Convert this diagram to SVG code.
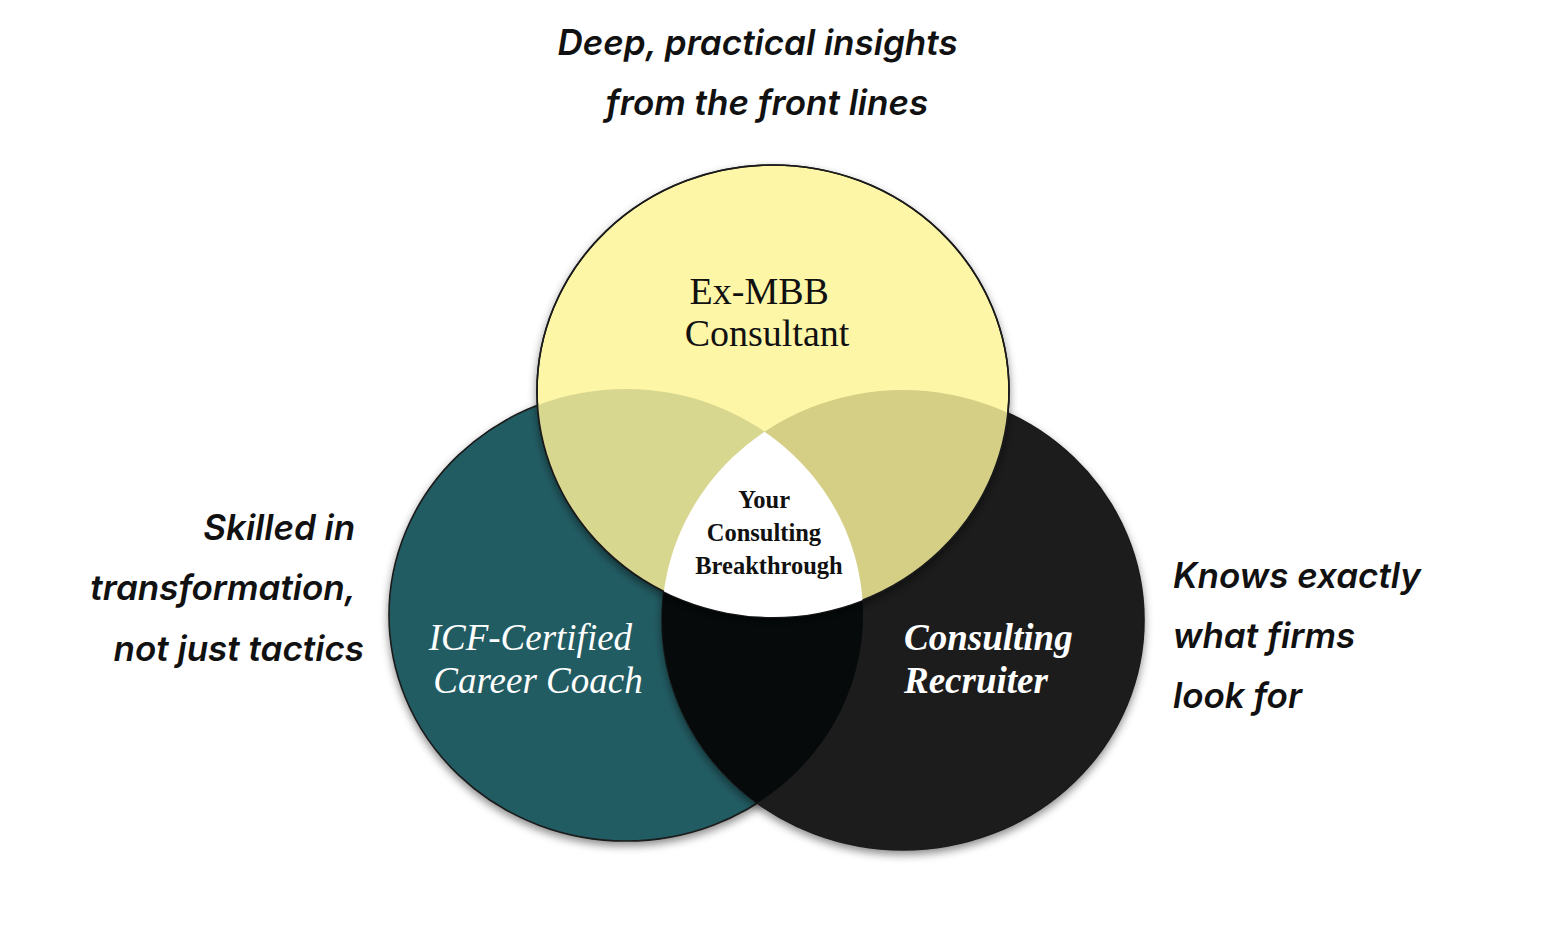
<svg xmlns="http://www.w3.org/2000/svg" width="1558" height="934" viewBox="0 0 1558 934">
  <style>
    .note { font-family: Inter, "Noto Sans", "Liberation Sans", sans-serif; font-style: italic; font-weight: 600; font-size: 35px; fill: #111111; }
    .lab { font-family: "Liberation Serif", "DejaVu Serif", serif; }
    .edge { fill: none; stroke: #1a1a1a; stroke-width: 1.6; }
  </style>
  <defs>
    <filter id="shadow" x="-10%" y="-10%" width="120%" height="125%">
      <feDropShadow dx="0" dy="4" stdDeviation="4.5" flood-color="#000000" flood-opacity="0.45"/>
    </filter>
    <clipPath id="clipTeal"><ellipse cx="626" cy="615" rx="237" ry="226"/></clipPath>
    <clipPath id="clipBlack"><ellipse cx="903" cy="620" rx="241" ry="230"/></clipPath>
    <clipPath id="clipYellow"><ellipse cx="773" cy="391" rx="236" ry="226"/></clipPath>
  </defs>
  <rect width="1558" height="934" fill="#ffffff"/>

  <g id="node-teal">
    <ellipse cx="626" cy="615" rx="237" ry="226" class="edge" style="fill:#245b63" filter="url(#shadow)"/>
  </g>
  <g id="node-black">
    <ellipse cx="903" cy="620" rx="241" ry="230" style="fill:#1e1e1e" class="edge" filter="url(#shadow)"/>
    <ellipse cx="903" cy="620" rx="241" ry="230" fill="#060a0b" clip-path="url(#clipTeal)"/>
  </g>
  <g id="node-yellow">
    <ellipse cx="773" cy="391" rx="236" ry="226" style="fill:#fef6a7" class="edge" filter="url(#shadow)"/>
    <ellipse cx="626" cy="615" rx="237" ry="226" fill="#d8d78f" clip-path="url(#clipYellow)"/>
    <ellipse cx="903" cy="620" rx="241" ry="230" fill="#d4cf85" clip-path="url(#clipYellow)"/>
    <ellipse cx="773" cy="391" rx="236" ry="226" class="edge"/>
  </g>
  <g id="node-center">
    <g clip-path="url(#clipYellow)">
      <ellipse cx="903" cy="620" rx="241" ry="230" fill="#ffffff" clip-path="url(#clipTeal)"/>
    </g>
    <text class="lab" font-weight="bold" font-size="24.5" fill="#111111" text-anchor="middle">
      <tspan x="767" y="508">Your</tspan>
      <tspan x="767" y="541">Consulting</tspan>
      <tspan x="769" y="574">Breakthrough</tspan>
    </text>
  </g>

  <g id="label-yellow">
    <text class="lab" font-size="38" fill="#111111" text-anchor="middle">
      <tspan x="764" y="304">Ex-MBB</tspan>
      <tspan x="767" y="346">Consultant</tspan>
    </text>
  </g>
  <g id="label-teal">
    <text class="lab" font-style="italic" font-size="37" fill="#ffffff" text-anchor="middle">
      <tspan x="535" y="650">ICF-Certified</tspan>
      <tspan x="538" y="693">Career Coach</tspan>
    </text>
  </g>
  <g id="label-black">
    <text class="lab" font-style="italic" font-weight="bold" font-size="37" fill="#ffffff">
      <tspan x="904" y="650">Consulting</tspan>
      <tspan x="904" y="693">Recruiter</tspan>
    </text>
  </g>

  <g id="notes">
    <text class="note" text-anchor="middle">
      <tspan x="762" y="55">Deep, practical insights</tspan>
      <tspan x="767" y="115">from the front lines</tspan>
    </text>
    <text class="note" text-anchor="end">
      <tspan x="364" y="540">Skilled in</tspan>
      <tspan x="364" y="600">transformation,</tspan>
      <tspan x="364" y="661">not just tactics</tspan>
    </text>
    <text class="note">
      <tspan x="1173" y="588">Knows exactly</tspan>
      <tspan x="1173" y="648">what firms</tspan>
      <tspan x="1173" y="708">look for</tspan>
    </text>
  </g>
</svg>
